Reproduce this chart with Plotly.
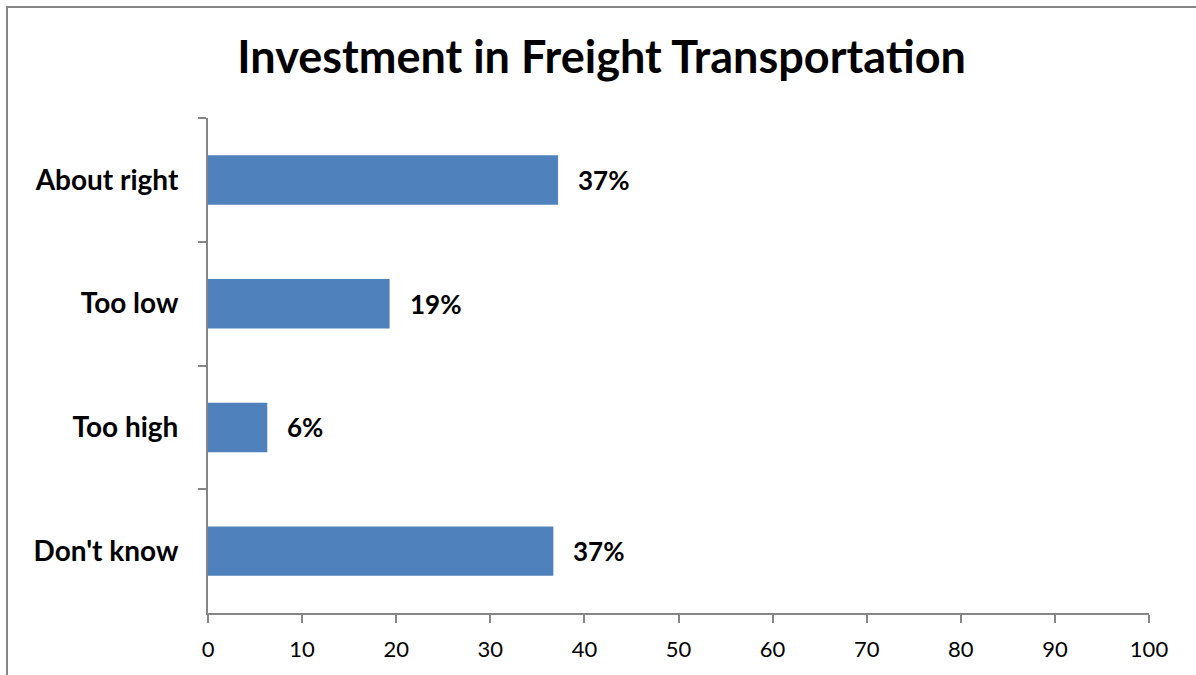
import plotly.graph_objects as go

# --- data (top to bottom as shown) -------------------------------------------
categories = ["About right", "Too low", "Too high", "Don't know"]
values = [37.2, 19.3, 6.3, 36.7]
value_labels = ["37%", "19%", "6%", "37%"]
x_ticks = [0, 10, 20, 30, 40, 50, 60, 70, 80, 90, 100]

# --- style --------------------------------------------------------------------
_BAR = "#4f81bd"
_AXIS = "#868686"
_INK = "#000000"
_FONT = "Lato, 'Open Sans', sans-serif"

fig = go.Figure(
    go.Bar(
        x=values,
        y=categories,
        orientation="h",
        marker=dict(color=_BAR, line=dict(width=0)),
        hoverinfo="skip",
    )
)

# value labels just past each bar end
for cat, val, lab in zip(categories, values, value_labels):
    fig.add_annotation(
        x=val, y=cat, text=f"<b>{lab}</b>", showarrow=False,
        xanchor="left", xshift=18, font=dict(size=26, color=_INK, family=_FONT),
    )

# outer chart frame (only top-left corner visible in the crop)
fig.add_shape(
    type="rect", xref="paper", yref="paper",
    x0=-0.2136, x1=1.3, y0=-0.3, y1=1.2242,
    line=dict(color=_AXIS, width=2), layer="below",
)

fig.update_layout(
    width=1196,
    height=675,
    title=dict(
        text="<b>Investment in Freight Transportation</b>",
        x=0.503, xanchor="center", y=0.915, yanchor="middle",
        font=dict(size=45, color=_INK, family=_FONT),
    ),
    paper_bgcolor="white",
    plot_bgcolor="white",
    font=dict(family=_FONT, color=_INK),
    margin=dict(l=208, r=47, t=118, b=62),
    bargap=0.6,
    showlegend=False,
)
fig.update_xaxes(
    range=[0, 100],
    tickvals=x_ticks,
    showgrid=False,
    zeroline=False,
    showline=True, linecolor=_AXIS, linewidth=2,
    ticks="outside", ticklen=8, tickwidth=2, tickcolor=_AXIS,
    ticklabelstandoff=8,
    tickfont=dict(size=22, color=_INK, family=_FONT),
    fixedrange=True,
)
fig.update_yaxes(
    autorange="reversed",
    showgrid=False,
    showline=True, linecolor=_AXIS, linewidth=2,
    ticks="outside", ticklen=8, tickwidth=2, tickcolor=_AXIS,
    tickson="boundaries",
    ticklabelstandoff=22,
    tickfont=dict(size=28, color=_INK, family=_FONT),
    tickprefix="<b>", ticksuffix="</b>",
    fixedrange=True,
)

# drop the browser's default body margin so the figure sits at the page corner
fig.write_html(
    "out.html",
    config={"displayModeBar": False},
    post_script="document.body.style.margin = '0';",
)
